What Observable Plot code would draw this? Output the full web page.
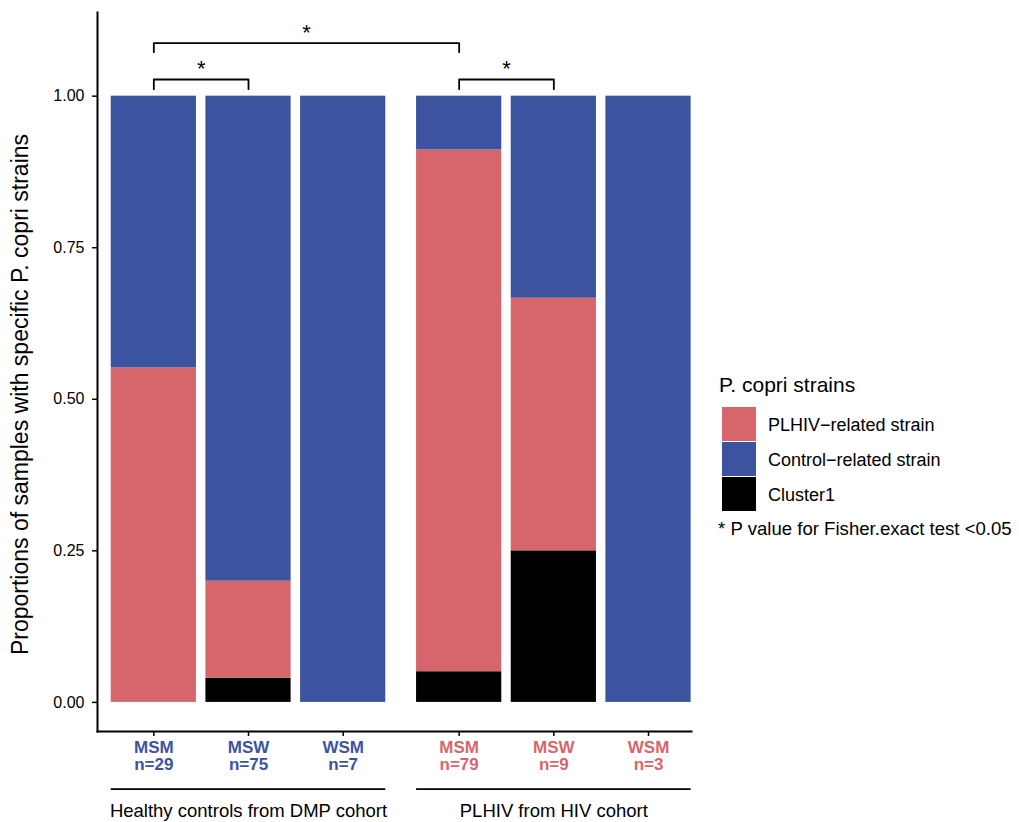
<!DOCTYPE html>
<html><head><meta charset="utf-8">
<script src="https://cdn.jsdelivr.net/npm/d3@7"></script>
<script src="https://cdn.jsdelivr.net/npm/@observablehq/plot@0.6"></script>
<style>
body{margin:0;background:#fff;font-family:"Liberation Sans",Arial,sans-serif;}
#wrap{position:relative;width:1019px;height:822px;background:#fff}
#wrap svg{position:absolute;left:0;top:0;}
.leg{position:absolute;line-height:1;white-space:nowrap;color:#000;font-family:"Liberation Sans",Arial,sans-serif}
.sw{position:absolute;left:722px;width:34px;height:34px}
</style></head><body><div id="wrap"></div>
<script>
// ---- data ----
const cohorts = ["Healthy controls from DMP cohort", "PLHIV from HIV cohort"];
const categories = ["MSM", "MSW", "WSM", "MSM", "MSW", "WSM"];
const cohortIndex = [0, 0, 0, 1, 1, 1];
const sampleSizes = [29, 75, 7, 79, 9, 3];
const strains = ["Cluster1", "PLHIV\u2212related strain", "Control\u2212related strain"]; // stacking order (bottom → top)
const cluster1 = [0, 0.04, 0, 0.0506, 0.25, 0];
const plhivRelated = [0.5517, 0.16, 0, 0.8608, 0.4167, 0];
const controlRelated = [0.4483, 0.80, 1, 0.0886, 0.3333, 1];
const yTicks = [0, 0.25, 0.5, 0.75, 1];
const comparisons = [[0, 1], [3, 4], [0, 3]]; // bar index pairs, Fisher exact p<0.05
const comparisonLevel = [0, 0, 1];
const legendOrder = ["PLHIV\u2212related strain", "Control\u2212related strain", "Cluster1"];

// ---- styles / layout ----
const RED = "#D7666C", BLUE = "#3C539F";
const strainColors = {"Cluster1": "#000000", "PLHIV\u2212related strain": RED, "Control\u2212related strain": BLUE};
const cohortColors = [BLUE, RED];
const groupGap = 0.225, barHalf = 0.45;
const bracketTop = [1.0275, 1.0874], bracketFoot = [1.0115, 1.0725];
const yDomain = [-0.048, 1.138];

const pos = i => i + 1 + cohortIndex[i] * groupGap;
const bars = categories.map((c, i) => ({i, cat: c, n: sampleSizes[i], cohort: cohortIndex[i], x: pos(i)}));
const series = [cluster1, plhivRelated, controlRelated];
const segments = [];
bars.forEach(b => {
  let acc = 0;
  strains.forEach((s, k) => {
    const v = series[k][b.i];
    if (v > 0) segments.push({strain: s, x1: b.x - barHalf, x2: b.x + barHalf, y1: acc, y2: acc + v});
    acc += v;
  });
});
const bracketPts = [];
const brackets = comparisons.map(([a, b], k) => {
  const L = comparisonLevel[k];
  const xa = pos(a), xb = pos(b);
  [[xa, bracketFoot[L]], [xa, bracketTop[L]], [xb, bracketTop[L]], [xb, bracketFoot[L]]]
    .forEach(([x, y]) => bracketPts.push({id: k, x, y}));
  return {x: (xa + xb) / 2, y: bracketTop[L]};
});
const groups = cohorts.map((name, g) => {
  const xs = bars.filter(b => b.cohort === g).map(b => b.x);
  return {name, x1: d3.min(xs) - barHalf, x2: d3.max(xs) + barHalf, xc: (d3.min(xs) + d3.max(xs)) / 2};
});

const chart = Plot.plot({
  width: 1019, height: 822,
  marginLeft: 97, marginRight: 328, marginTop: 12, marginBottom: 91,
  style: {fontFamily: "Liberation Sans, Arial, sans-serif", background: "white", overflow: "visible", color: "black"},
  x: {type: "linear", domain: [0.405, 6.679], axis: null},
  y: {domain: yDomain, axis: null},
  color: {domain: strains, range: strains.map(s => strainColors[s])},
  marks: [
    Plot.rectY(segments, {x1: "x1", x2: "x2", y1: "y1", y2: "y2", fill: "strain"}),
    Plot.axisY({ticks: yTicks, tickFormat: d3.format(".2f"), tickSize: 5, tickPadding: 8, fontSize: 16, strokeWidth: 1.5, label: null}),
    Plot.axisX({ticks: bars.map(b => b.x), tickFormat: () => "", tickSize: 5, strokeWidth: 1.5, label: null}),
    Plot.frame({anchor: "left", strokeWidth: 2}),
    Plot.frame({anchor: "bottom", strokeWidth: 2}),
    ...cohorts.map((c, g) => Plot.text(bars.filter(b => b.cohort === g), {
      x: "x", frameAnchor: "bottom", text: b => `${b.cat}\nn=${b.n}`,
      fill: cohortColors[g], fontWeight: "bold", fontSize: 17, lineAnchor: "top", lineHeight: 1.0, dy: 9.5
    })),
    Plot.ruleY(groups, {y: () => yDomain[0], x1: "x1", x2: "x2", dy: 57.7, strokeWidth: 1.8}),
    Plot.text(groups, {x: "xc", frameAnchor: "bottom", text: "name", fontSize: 18.5, lineAnchor: "top", dy: 72}),
    Plot.line(bracketPts, {x: "x", y: "y", z: "id", stroke: "black", strokeWidth: 1.8}),
    Plot.text(brackets, {x: "x", y: "y", text: () => "*", fontSize: 22, lineAnchor: "bottom", dy: -3}),
    Plot.text(["Proportions of samples with specific P. copri strains"], {
      frameAnchor: "left", rotate: -90, dx: -69.5, dy: 22.5, lineAnchor: "bottom", fontSize: 23, textAnchor: "middle"
    })
  ]
});
const wrap = document.getElementById("wrap");
wrap.appendChild(chart);

// legend (HTML, to the right of the plot)
const addDiv = (cls, css, text) => {
  const d = document.createElement("div");
  d.className = cls; Object.assign(d.style, css);
  if (text) d.textContent = text;
  wrap.appendChild(d);
};
addDiv("leg", {left: "719px", top: "374px", fontSize: "21px"}, "P. copri strains");
legendOrder.forEach((s, k) => {
  const top = 406.5 + k * 35.3;
  addDiv("sw", {top: top + "px", background: strainColors[s]});
  addDiv("leg", {left: "768px", top: (top + 9.3) + "px", fontSize: "18px"}, s);
});
addDiv("leg", {left: "718px", top: "519.5px", fontSize: "18.6px"}, "* P value for Fisher.exact test <0.05");
</script>
</body></html>
